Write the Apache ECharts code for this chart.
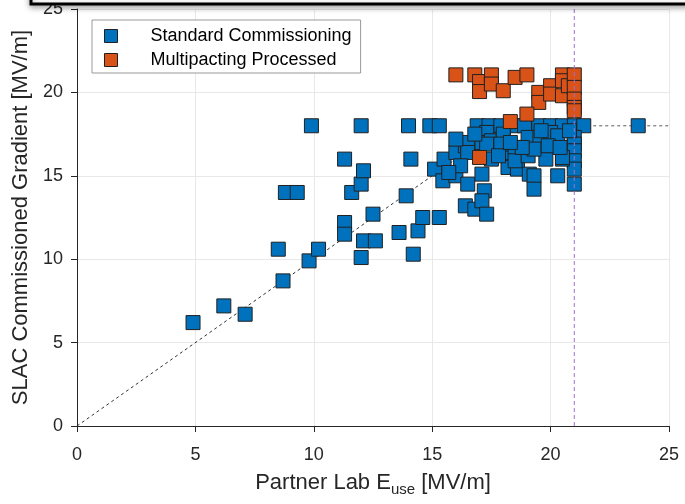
<!DOCTYPE html>
<html>
<head>
<meta charset="utf-8">
<script src="https://cdn.jsdelivr.net/npm/echarts@6/dist/echarts.min.js"></script>
<style>
  html, body { margin: 0; padding: 0; background: #fff; }
  #chart { width: 685px; height: 504px; }
</style>
</head>
<body>
<div id="chart"></div>
<script>
// standard commissioning points [partner lab Euse, SLAC gradient]
const stdPoints = [
  [4.9, 6.2], [6.2, 7.2], [7.1, 6.7], [8.5, 10.6], [8.7, 8.7], [8.8, 14.0], [9.3, 14.0],
  [9.8, 9.9], [9.9, 18.0], [10.2, 10.6], [11.3, 16.0], [11.3, 12.2], [11.3, 11.5], [11.6, 14.0],
  [12.0, 18.0], [12.0, 14.5], [12.1, 15.3], [12.0, 10.1], [12.1, 11.1], [12.6, 11.1], [12.5, 12.7],
  [13.6, 11.6], [13.9, 13.8], [14.0, 18.0], [14.1, 16.0], [14.2, 10.3], [14.4, 11.7], [14.6, 12.5],
  [15.3, 12.5], [14.9, 18.0], [15.3, 18.0], [15.1, 15.4], [15.45, 14.7], [15.5, 16.0], [16.0, 16.4],
  [16.0, 15.0], [16.5, 14.5], [16.4, 13.2], [16.8, 13.0], [17.2, 14.1], [17.1, 13.5], [17.3, 12.7],
  [17.1, 15.1], [16.4, 16.8], [16.5, 17.0], [16.5, 16.4], [16.9, 18.0], [17.4, 18.0], [17.9, 18.0],
  [18.4, 18.0], [18.9, 18.0], [19.5, 18.0], [20.0, 18.0], [20.5, 18.0], [21.0, 18.0], [21.4, 18.0],
  [23.7, 18.0], [17.3, 17.6], [17.1, 17.0], [17.5, 17.1], [18.0, 17.3], [18.0, 17.5], [17.5, 16.0],
  [18.0, 16.4], [18.5, 16.7], [18.2, 15.5], [18.6, 15.4], [18.5, 15.9], [17.3, 16.9], [17.9, 16.9],
  [19.0, 16.7], [19.1, 15.1], [19.05, 17.3], [19.55, 17.3], [20.0, 17.6], [20.3, 17.4], [21.0, 17.3],
  [21.0, 16.9], [21.0, 16.5], [21.0, 15.9], [21.0, 15.4], [21.0, 14.5], [19.05, 16.2], [19.8, 16.0],
  [20.5, 16.0], [20.5, 16.1], [19.3, 16.6], [18.8, 16.7], [19.3, 15.0], [20.3, 15.0], [19.3, 14.2],
  [16.0, 17.2], [16.8, 17.5], [17.8, 16.2], [18.3, 17.0], [19.9, 16.8], [20.4, 16.7], [19.6, 17.7],
  [20.8, 17.7], [16.2, 15.6], [15.7, 15.2]
]

// multipacting processed points
const mpPoints = [
  [16.0, 21.05], [16.8, 21.05], [17.0, 20.65], [17.0, 20.05], [17.5, 21.05], [17.5, 20.5],
  [18.0, 20.1], [18.5, 20.9], [19.0, 21.05], [19.5, 20.0], [19.5, 19.4], [20.0, 20.4], [20.0, 19.9],
  [20.5, 21.05], [20.5, 20.7], [20.5, 19.8], [20.75, 20.4], [21.0, 21.05], [21.0, 20.3], [21.0, 19.6],
  [21.0, 19.1], [21.0, 18.9], [19.0, 18.7], [18.3, 18.25], [17.0, 16.1]
]

// reference lines
const diagLine = [[0, 0], [18, 18]]
const capLine = [[18, 18], [25, 18]]
const limitLine = [[21, 0], [21, 25]]

const axisTicks = [0, 5, 10, 15, 20, 25]

const FONT = 'Liberation Sans, Arial, sans-serif'
const chart = echarts.init(document.getElementById('chart'), null, {renderer: 'canvas'})

const axisCommon = {
  type: 'value',
  min: axisTicks[0],
  max: axisTicks[axisTicks.length - 1],
  interval: axisTicks[1] - axisTicks[0],
  nameLocation: 'middle',
  nameGap: 44,
  nameTextStyle: {color: '#262626', fontSize: 22, fontFamily: FONT},
  axisLine: {show: true, lineStyle: {color: '#262626', width: 1}},
  axisTick: {show: true, inside: false, length: 6, lineStyle: {color: '#262626'}},
  axisLabel: {color: '#262626', fontSize: 18, fontFamily: FONT},
  splitLine: {show: true, lineStyle: {color: '#e8e8e8', width: 1}}
}

const option = {
  animation: false,
  backgroundColor: '#fff',
  grid: {left: 77, right: 16, top: 8, bottom: 78, containLabel: false},
  legend: {
    orient: 'vertical',
    left: 92,
    top: 20,
    padding: [7, 9, 4, 12],
    itemWidth: 13,
    itemHeight: 13,
    itemGap: 6,
    backgroundColor: '#fff',
    borderColor: '#999',
    borderWidth: 1,
    borderRadius: 0,
    textStyle: {color: '#000', fontSize: 18, fontFamily: FONT, lineHeight: 18, padding: [0, 0, 0, 28]},
    data: [
      {name: 'Standard Commissioning', icon: 'rect', itemStyle: {borderColor: '#202020', borderWidth: 1}},
      {name: 'Multipacting Processed', icon: 'rect', itemStyle: {borderColor: '#202020', borderWidth: 1}}
    ]
  },
  xAxis: Object.assign({}, axisCommon, {
    name: 'Partner Lab E{sub|use} [MV/m]',
    nameGap: 42,
    nameTextStyle: {
      color: '#262626', fontSize: 22, fontFamily: FONT,
      rich: {sub: {fontSize: 15, fontFamily: FONT, color: '#262626', verticalAlign: 'bottom', padding: [14, 0, 0, 0]}}
    },
    axisLabel: {color: '#262626', fontSize: 18, fontFamily: FONT, margin: 20}
  }),
  yAxis: Object.assign({}, axisCommon, {
    name: 'SLAC Commissioned Gradient [MV/m]',
    nameGap: 44,
    axisLabel: {color: '#262626', fontSize: 18, fontFamily: FONT, margin: 14}
  }),
  series: [
    {
      type: 'line', data: diagLine, symbol: 'none', silent: true, z: 1,
      lineStyle: {color: '#333', width: 1, type: [3, 3]}
    },
    {
      type: 'line', data: capLine, symbol: 'none', silent: true, z: 1,
      lineStyle: {color: '#777', width: 1.2, type: [3, 3]}
    },
    {
      type: 'line', data: limitLine, symbol: 'none', silent: true, z: 5,
      lineStyle: {color: '#a070c8', width: 1, type: [4, 3]}
    },
    {
      name: 'Standard Commissioning',
      type: 'scatter',
      data: stdPoints,
      symbol: 'rect',
      symbolSize: 14,
      z: 3,
      itemStyle: {color: '#0072BD', borderColor: '#202020', borderWidth: 1, opacity: 1}
    },
    {
      name: 'Multipacting Processed',
      type: 'scatter',
      data: mpPoints,
      symbol: 'rect',
      symbolSize: 14,
      z: 4,
      itemStyle: {color: '#D95319', borderColor: '#202020', borderWidth: 1, opacity: 1}
    }
  ],
  graphic: [
    {
      // window frame cut into the top of the figure
      type: 'rect',
      z: 100,
      shape: {x: 31, y: -20, width: 700, height: 24},
      style: {
        fill: '#fff', stroke: '#000', lineWidth: 3,
        shadowBlur: 6, shadowColor: 'rgba(0,0,0,0.35)', shadowOffsetY: 2
      }
    }
  ]
}

chart.setOption(option)
</script>
</body>
</html>
